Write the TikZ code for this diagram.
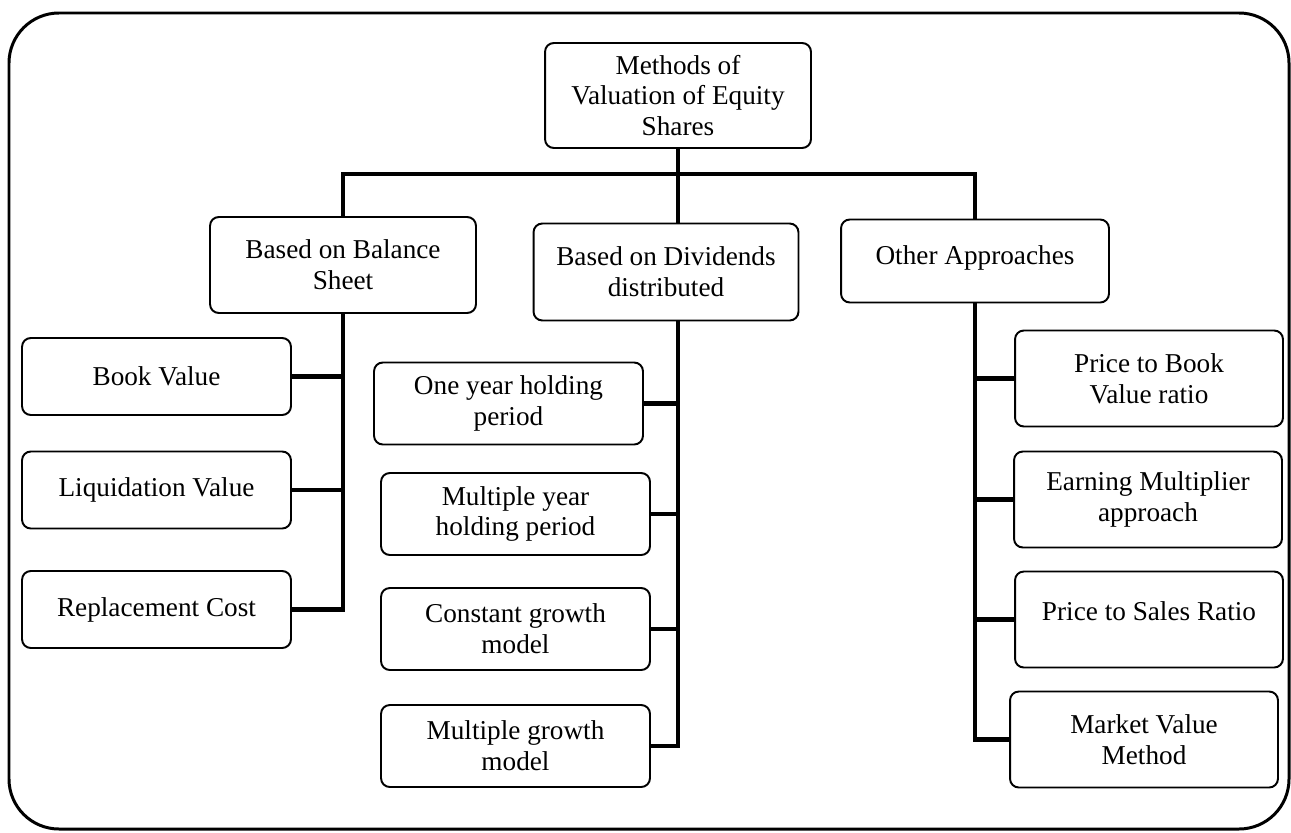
\documentclass[tikz,border=0pt]{standalone}
\usepackage{fontspec}
\setmainfont{Liberation Serif}
\usepackage{tikz}
\usetikzlibrary{positioning, calc}
\tikzset{
    box/.style   ={draw=black, line width=1.1pt, fill=white, rounded corners=5pt,
                   align=center, inner sep=2pt,
                   font=\fontsize{15.5}{17.5}\selectfont},
    leafbox/.style={box, minimum width=5.38cm, minimum height=1.54cm},
    midbox/.style={box, minimum width=5.38cm, minimum height=1.64cm},
    rtbox/.style ={box, minimum width=5.36cm, minimum height=1.92cm},
    link/.style  ={draw=black, line width=2.3pt},
    frame/.style ={draw=black, line width=1.7pt, rounded corners=1cm}
}

\begin{document}
\begin{tikzpicture}[x=0.02cm, y=-0.02cm]
  \useasboundingbox (0,0) rectangle (1291,832);

  % ---- outer frame
  \draw[frame] (9,13) rectangle (1289,829);

  % ---- top
  \node[box, minimum width=5.32cm, minimum height=2.1cm] (root) at (678,95.5)
       {Methods of\\Valuation of Equity\\Shares};
  \coordinate (bar) at (678,174);

  % ---- three groups
  \node[box, minimum width=5.32cm, minimum height=1.92cm] (bal) at (343,265)
       {Based on Balance\\Sheet};
  \node[box, minimum width=5.3cm, minimum height=1.94cm]  (div) at (666,272)
       {Based on Dividends\\distributed};
  \node[box, minimum width=5.36cm, minimum height=1.66cm] (oth) at (975,261)
       {Other Approaches\\[-11pt]\mbox{}};

  \draw[link] (root.south) -- (root.south |- div.north);
  \draw[link] (bal.north) |- (bar) -| (oth.north);

  % ---- balance sheet methods
  \node[leafbox] (book) at (156.5,376.5) {Book Value};
  \node[leafbox] (liq)  at (156.5,490)   {Liquidation Value};
  \node[leafbox] (rep)  at (156.5,609.5) {Replacement Cost};

  \draw[link] (bal.south) |- (rep.east);
  \draw[link] (book.east) -- (book.east -| bal.south);
  \draw[link] (liq.east)  -- (liq.east -| bal.south);

  % ---- dividend methods
  \node[midbox] (one)   at (508.5,403.5) {One year holding\\period};
  \node[midbox] (multy) at (515.5,514)   {Multiple year\\holding period};
  \node[midbox] (cons)  at (515.5,629)   {Constant growth\\model};
  \node[midbox] (multg) at (515.5,746)   {Multiple growth\\model};

  \draw[link] (root.south |- div.south) |- (multg.east);
  \draw[link] (one.east)   -- (one.east -| root.south);
  \draw[link] (multy.east) -- (multy.east -| root.south);
  \draw[link] (cons.east)  -- (cons.east -| root.south);

  % ---- other approaches
  \node[rtbox] (pbv) at (1149,378.5) {Price to Book\\Value ratio};
  \node[rtbox] (emu) at (1148,499.5) {Earning Multiplier\\approach};
  \node[rtbox] (psr) at (1149,619.5) {Price to Sales Ratio\\[-8pt]\mbox{}};
  \node[rtbox] (mvm) at (1144,739.5) {Market Value\\Method};

  \draw[link] (oth.south) |- (mvm.west);
  \draw[link] (pbv.west) -- (pbv.west -| oth.south);
  \draw[link] (emu.west) -- (emu.west -| oth.south);
  \draw[link] (psr.west) -- (psr.west -| oth.south);
\end{tikzpicture}
\end{document}
